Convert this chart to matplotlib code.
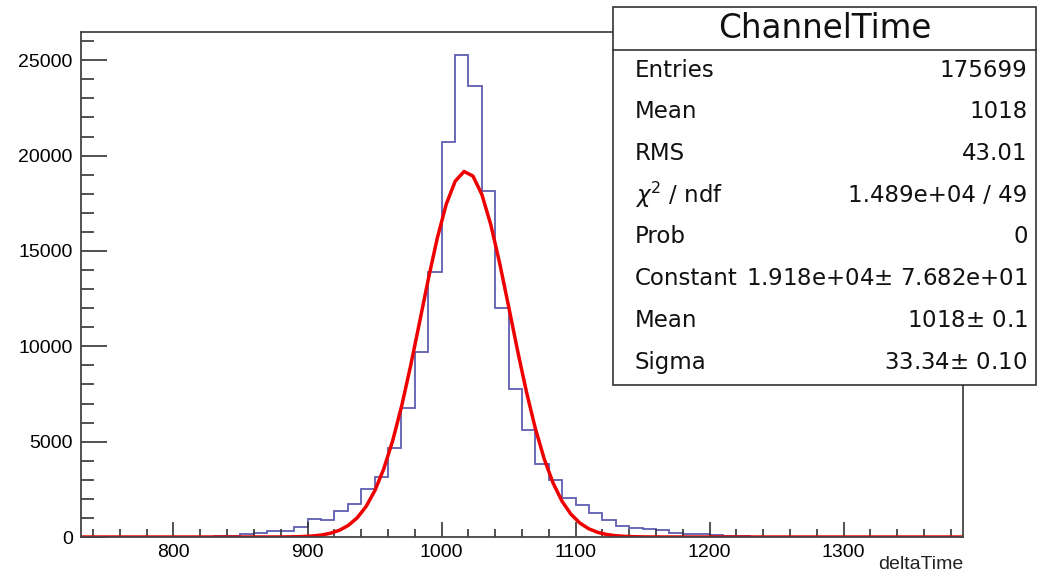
import numpy as np
import matplotlib
matplotlib.use("Agg")
import matplotlib.pyplot as plt
from matplotlib.ticker import MultipleLocator

plt.rcParams['font.family'] = ['Liberation Sans', 'DejaVu Sans']
plt.rcParams['mathtext.fontset'] = 'dejavusans'

# histogram: 10-wide bins starting at 780
bin_start = 780
bin_width = 10
counts = [1, 2, 4, 8, 15, 30, 70, 140, 225, 330,
          300, 540, 920, 870, 1364, 1715, 2520, 3150, 4680, 6750,
          9710, 13920, 20710, 25275, 23664, 18160, 12000, 7750, 5614, 3830,
          3010, 2070, 1670, 1276, 892, 595, 490, 400, 367, 227,
          175, 140, 100, 60, 30, 15, 10, 6, 4, 3,
          2, 1]

# Gaussian fit parameters from the stats box
fit_constant = 1.918e4
fit_mean = 1018.0
fit_sigma = 33.34

stats_labels = ['Entries', 'Mean', 'RMS', r'$\chi^{2}$ / ndf', 'Prob',
                'Constant', 'Mean', 'Sigma']
stats_values = ['175699', '1018', '43.01', '1.489e+04 / 49', '0',
                '1.918e+04$\\pm$ 7.682e+01', '1018$\\pm$ 0.1', '33.34$\\pm$ 0.10']

xmin, xmax = 731, 1389
ymax = 26480

edges = bin_start + bin_width * np.arange(len(counts) + 1)

fig = plt.figure(figsize=(10.37, 5.8), dpi=100)
ax = fig.add_axes([0.0781, 0.0741, 0.8505, 0.8707])

ax.stairs(counts, edges, color='#5e5eb2', linewidth=1.3)

xf = np.linspace(xmin, xmax, 100)
yf = fit_constant * np.exp(-0.5 * ((xf - fit_mean) / fit_sigma) ** 2)
ax.plot(xf, yf, color='#ee0000', linewidth=2.5)

ax.set_xlim(xmin, xmax)
ax.set_ylim(0, ymax)
ax.xaxis.set_major_locator(MultipleLocator(100))
ax.xaxis.set_minor_locator(MultipleLocator(20))
ax.yaxis.set_major_locator(MultipleLocator(5000))
ax.yaxis.set_minor_locator(MultipleLocator(1000))
ax.tick_params(axis='x', which='major', direction='in', length=11, width=1.2,
               labelsize=14, pad=5, color='#333333')
ax.tick_params(axis='x', which='minor', direction='in', length=5.5, width=1.2,
               color='#333333')
ax.tick_params(axis='y', which='major', direction='in', length=19, width=1.2,
               labelsize=14, pad=6, color='#333333')
ax.tick_params(axis='y', which='minor', direction='in', length=9.5, width=1.2,
               color='#333333')
for s in ax.spines.values():
    s.set_linewidth(1.3)
    s.set_color('#444444')

fig.text(0.9286, 0.012, 'deltaTime', ha='right', va='bottom', fontsize=14,
         color='#222222')

# stats box
box_font = ['DejaVu Sans']
box_l, box_b, box_r, box_t = 0.591, 0.336, 0.999, 0.988
sep_y = 0.914
fig.patches.append(plt.Rectangle((box_l, box_b), box_r - box_l, box_t - box_b,
                                 transform=fig.transFigure, facecolor='white',
                                 edgecolor='#333333', linewidth=1.2, zorder=5))
fig.add_artist(plt.Line2D([box_l, box_r], [sep_y, sep_y], transform=fig.transFigure,
                          color='#333333', linewidth=1.2, zorder=6))
fig.text((box_l + box_r) / 2, (sep_y + box_t) / 2, 'ChannelTime', ha='center',
         va='center', fontsize=23.5, color='#111111', zorder=7, family=box_font)

row_top = 0.879
row_step = 41.7 / 580
for i, (lab, val) in enumerate(zip(stats_labels, stats_values)):
    y = row_top - i * row_step
    fig.text(0.612, y, lab, ha='left', va='center', fontsize=16.5,
             color='#111111', zorder=7, family=box_font)
    fig.text(0.991, y, val, ha='right', va='center', fontsize=16.5,
             color='#111111', zorder=7, family=box_font)

fig.savefig('out.png', dpi=100)
